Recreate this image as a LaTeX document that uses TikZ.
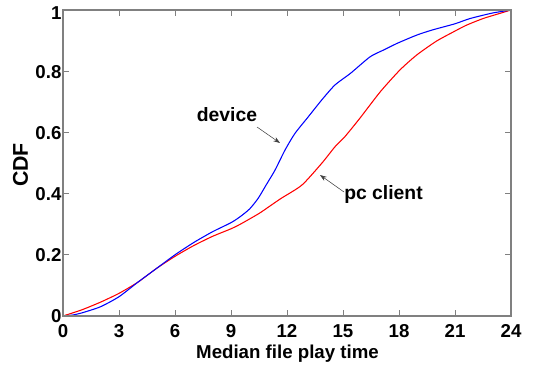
\documentclass[tikz,border=0pt]{standalone}
\usepackage{fontspec}
\setmainfont{Liberation Sans}
\usetikzlibrary{arrows.meta}
\definecolor{axisgray}{RGB}{128,128,128}
\begin{document}
\begin{tikzpicture}[x=0.75pt,y=-0.75pt,
  lbl/.style={font=\fontsize{14}{16}\selectfont\bfseries, inner sep=0pt},
  ann/.style={font=\fontsize{14.5}{17}\selectfont\bfseries, inner sep=0pt},
  annarrow/.style={draw=black!75, line width=0.4pt, -{Stealth[length=5pt,width=3.5pt]}},
  axisline/.style={draw=axisgray, line width=0.8pt},
  tickline/.style={draw=axisgray, line width=0.6pt},
  devcurve/.style={draw=blue, line width=0.8pt, line join=round, smooth, tension=0.4},
  pccurve/.style={draw=red, line width=0.8pt, line join=round, smooth, tension=0.4}]
\useasboundingbox (0,0) rectangle (536,371);
\fill[white] (0,0) rectangle (536,371);
% axes scope: data coordinates
\begin{scope}[shift={(47.25pt,-237pt)}, x=14pt, y=229.5pt]
  % curves
  \draw[pccurve] plot coordinates {(0,0) (1,0.02) (2,0.045) (3,0.074) (4,0.11) (5,0.155) (6,0.195) (7,0.23) (8,0.26) (9,0.285) (9.5,0.30) (10.5,0.335) (11.1,0.36) (11.7,0.385) (12.8,0.428) (13.86,0.499) (14.57,0.553) (15.1,0.586) (15.9,0.646) (17,0.733) (18.05,0.804) (18.95,0.853) (20,0.898) (20.9,0.928) (21.6,0.95) (22.5,0.972) (23.3,0.987) (24,1)};
  \draw[devcurve] plot coordinates {(0,0) (0.5,0.003) (1,0.01) (2,0.03) (3,0.063) (4,0.11) (5,0.155) (6,0.2) (7,0.24) (8,0.275) (9,0.305) (9.5,0.325) (10,0.35) (10.46,0.385) (10.9,0.43) (11.36,0.477) (11.9,0.543) (12.43,0.597) (13.14,0.651) (13.86,0.706) (14.57,0.755) (15.4,0.793) (16.45,0.847) (17.2,0.87) (17.9,0.891) (18.95,0.918) (19.8,0.935) (21,0.955) (21.8,0.972) (23,0.99) (24,1)};
  % box
  \draw[axisline] (0,0) rectangle (24,1);
  % ticks
  \foreach \t in {3,6,...,21} {
    \draw[tickline] (\t,0) -- ++(0,4.5pt);
    \draw[tickline] (\t,1) -- ++(0,-4.5pt);
  }
  \foreach \f in {0.2,0.4,0.6,0.8} {
    \draw[tickline] (0,\f) -- ++(4.5pt,0);
    \draw[tickline] (24,\f) -- ++(-4.5pt,0);
  }
  % x tick labels
  \foreach \t in {0,3,...,24} {
    \node[lbl, anchor=base] (xl\t) at ([yshift=-15.75pt]\t,0) {\t};
  }
  % y tick labels
  \foreach \f/\s in {0/0,0.2/0.2,0.4/0.4,0.6/0.6,0.8/0.8} {
    \node[lbl, anchor=base east] (yl\s) at ([xshift=-1pt,yshift=-5.1pt]0,\f) {\s};
  }
  \node[lbl, anchor=base east] (yl1) at ([xshift=-1pt,yshift=-7.3pt]0,1) {1};
\end{scope}
% axis labels
\node[lbl, anchor=base] (xlabel) at (287.5,358) {Median file play time};
\node[font=\fontsize{16}{18}\selectfont\bfseries, inner sep=0pt, rotate=90] (ylabel) at (20.5,165) {CDF};
% annotations
\node[ann, anchor=base] (devlbl) at (227,121.5) {device};
\node[ann, anchor=base] (pclbl) at (383.5,199) {pc client};
\coordinate (devpt) at (280,143);
\coordinate (pcpt) at (320,175);
\coordinate (devstart) at (257,127);
\coordinate (pcstart) at (344,192);
\draw[annarrow] (devstart) -- (devpt);
\draw[annarrow] (pcstart) -- (pcpt);
\end{tikzpicture}
\end{document}
